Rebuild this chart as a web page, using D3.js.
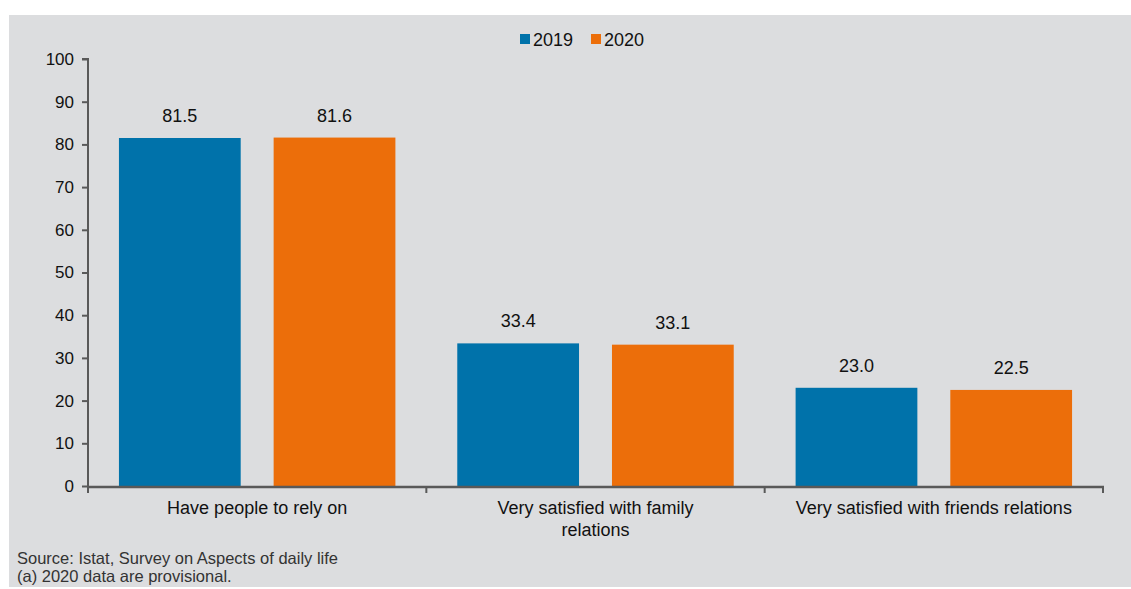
<!DOCTYPE html>
<html><head><meta charset="utf-8">
<script src="https://cdn.jsdelivr.net/npm/d3@7"></script>
<style>
body{margin:0;background:#fff;}
svg{display:block;}
text{font-family:"Liberation Sans",Arial,sans-serif;fill:#111;}
.note{font-family:"Liberation Sans Narrow","Arial Narrow","Liberation Sans",sans-serif;fill:#333;}
</style></head>
<body>
<svg id="c" width="1131" height="589"></svg>
<script>
const categories = [["Have people to rely on"], ["Very satisfied with family", "relations"], ["Very satisfied with friends relations"]];
const seriesNames = ["2019", "2020"];
const values2019 = [81.5, 33.4, 23.0];
const values2020 = [81.6, 33.1, 22.5];
const yTicks = [0,10,20,30,40,50,60,70,80,90,100];
const colors = ["#0072aa", "#ec6e0a"];
const notes = ["Source: Istat, Survey on Aspects of daily life", "(a) 2020 data are provisional."];

const svg = d3.select("#c");
svg.append("rect").attr("x",9).attr("y",15).attr("width",1122).attr("height",572).attr("fill","#dcdddf");

const x0 = d3.scaleBand().domain(d3.range(categories.length)).range([88,1103]).paddingInner(0).paddingOuter(0);
const x1 = d3.scaleBand().domain(seriesNames).range([0,x0.bandwidth()]).paddingInner(0.213).paddingOuter(0.2);
const y = d3.scaleLinear().domain([0,100]).range([486,59]);

const series = [values2019, values2020];
categories.forEach((c,i)=>{
  seriesNames.forEach((s,j)=>{
    const v = series[j][i];
    const bx = x0(i)+x1(s);
    svg.append("rect").attr("x",bx).attr("y",y(v)).attr("width",x1.bandwidth()).attr("height",y(0)-y(v)).attr("fill",colors[j]);
    svg.append("text").attr("x",bx+x1.bandwidth()/2).attr("y",y(v)-16).attr("text-anchor","middle").attr("font-size","18px").text(v.toFixed(1));
  });
});

// y axis
const ya = svg.append("g").attr("transform","translate(88,0)").call(d3.axisLeft(y).tickValues(yTicks).tickSize(6).tickPadding(8));
ya.select(".domain").attr("stroke","#595959").attr("stroke-width",2).attr("d","M-6,59H0V486");
ya.selectAll(".tick line").attr("stroke","#595959").attr("stroke-width",2);
ya.selectAll(".tick text").attr("font-size","17px").attr("fill","#111").attr("font-family","Liberation Sans, Arial, sans-serif");

// x axis
const xa = svg.append("g");
xa.append("line").attr("x1",87).attr("x2",1104).attr("y1",487).attr("y2",487).attr("stroke","#595959").attr("stroke-width",2.5);
const bounds = d3.range(categories.length+1).map(i => i<categories.length ? x0(i) : x0(i-1)+x0.bandwidth());
bounds.forEach(b=>{
  xa.append("line").attr("x1",b).attr("x2",b).attr("y1",487).attr("y2",493).attr("stroke","#595959").attr("stroke-width",2);
});
categories.forEach((c,i)=>{
  const t = xa.append("text").attr("x",x0(i)+x0.bandwidth()/2).attr("y",514).attr("text-anchor","middle").attr("font-size","18px");
  c.forEach((line,k)=>t.append("tspan").attr("x",x0(i)+x0.bandwidth()/2).attr("dy",k===0?0:22).text(line));
});

// legend
const lg = svg.append("g");
const lx = [520, 591];
seriesNames.forEach((s,j)=>{
  lg.append("rect").attr("x",lx[j]).attr("y",34).attr("width",10).attr("height",10).attr("fill",colors[j]);
  lg.append("text").attr("x",lx[j]+13).attr("y",46).attr("font-size","18px").text(s);
});

// notes
notes.forEach((n,k)=>{
  svg.append("text").attr("class","note").attr("x",17).attr("y",564+k*18).attr("font-size","16.5px").text(n);
});
</script>
</body></html>
